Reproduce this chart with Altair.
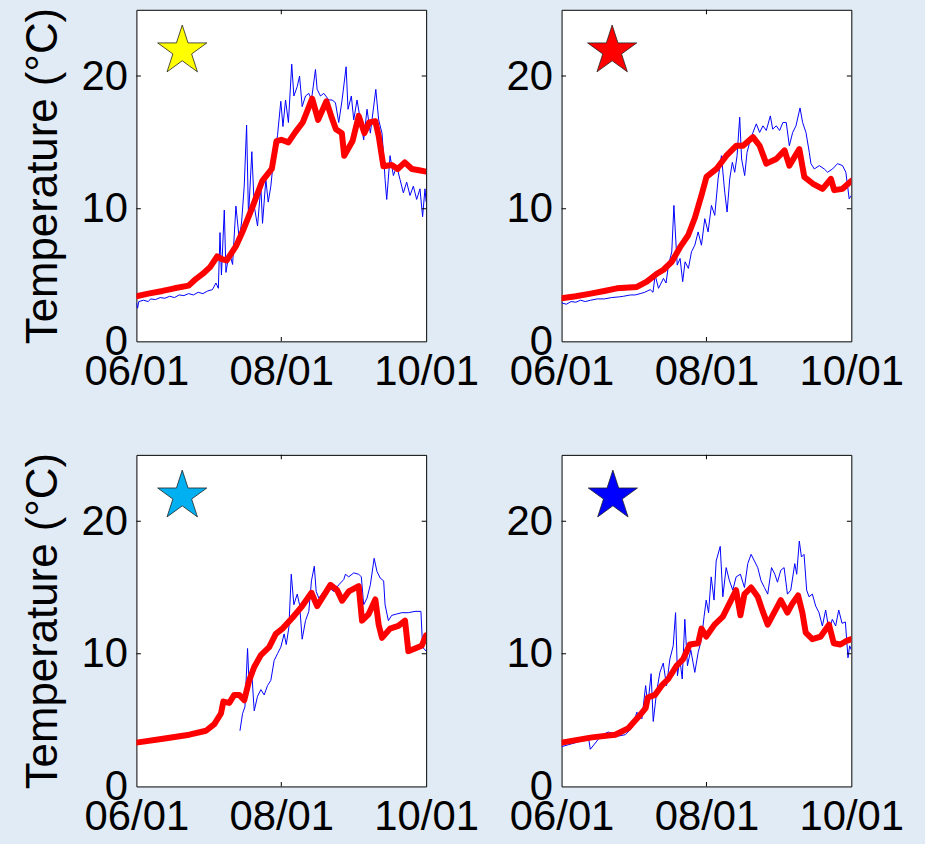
import altair as alt
import pandas as pd

# ---------------- axis ticks ----------------
SEASON_TICKS = [0, 61, 122]          # days after 06/01
SEASON_LABELS = ["06/01", "08/01", "10/01"]
TEMP_TICKS = [0, 10, 20]
TEMP_MAX = 25
Y_TITLE = "Temperature (°C)"

# ---------------- top-left (yellow star) ----------------
tl_blue_day = [0, 0.5, 1, 3, 5, 6, 8, 10, 12, 14, 16, 18, 20, 22, 24, 26, 28, 30, 32, 33.5, 34.5, 35.2, 35.8,
               37.0, 37.7, 39.1, 40.5, 41.9, 43.3, 44.3, 45.4, 46.4, 47.2, 48.6, 49.6, 51.0, 52.4, 53.1, 54.5,
               55.5, 56.6, 58.0, 59.4, 60.8, 61.7, 62.8, 64.0, 65.4, 66.3, 67.7, 68.7, 69.8, 71.2, 72.6, 73.7,
               75.4, 76.1, 77.5, 78.9, 81.0, 82.4, 83.8, 85.2, 86.6, 88.3, 89.1, 90.5, 91.5, 92.9, 94.3, 95.7,
               97.1, 98.5, 100.8, 102.0, 103.4, 104.1, 104.7, 105.4, 106.8, 108.2, 109.6, 111.0, 112.4, 113.8,
               115.2, 116.6, 118.0, 119.4, 120.5, 121.5, 122]
tl_blue_temp = [2.9, 2.5, 3.0, 3.1, 3.0, 3.2, 3.15, 3.3, 3.25, 3.4, 3.3, 3.5, 3.45, 3.6, 3.5, 3.7, 3.6, 3.8, 3.9,
                4.4, 4.0, 8.2, 5.0, 9.9, 5.2, 6.7, 5.8, 10.2, 7.7, 9.0, 11.7, 16.3, 9.4, 14.3, 10.2, 8.7, 11.7,
                8.9, 12.2, 10.5, 11.7, 14.2, 15.5, 18.1, 16.2, 18.2, 16.5, 20.9, 18.5, 19.2, 20.0, 17.7, 18.5,
                18.7, 18.2, 20.5, 19.0, 18.5, 18.7, 18.2, 18.2, 18.0, 16.5, 18.2, 20.7, 17.5, 18.5, 16.7, 18.2,
                16.7, 15.2, 17.5, 15.7, 19.0, 16.7, 15.7, 14.0, 12.2, 10.7, 14.0, 12.5, 13.2, 12.2, 11.2, 12.0,
                11.0, 11.7, 10.7, 11.5, 9.4, 11.5, 10.5]
tl_red_day = [0, 5, 11, 16, 22, 25, 28, 31, 34, 36, 38, 42, 45, 49, 53, 57, 59, 61, 64, 67, 70, 74, 76.5, 80,
              82, 84, 86.5, 87.5, 91, 93.6, 96, 98, 100.6, 102, 104, 107.5, 110, 113, 116, 119, 122]
tl_red_temp = [3.4, 3.6, 3.8, 4.0, 4.2, 4.7, 5.1, 5.6, 6.4, 6.2, 6.1, 7.2, 8.4, 10.2, 12.1, 13.0, 15.1, 15.2,
               15.0, 15.8, 16.5, 18.3, 16.7, 18.1, 17.0, 16.0, 15.7, 14.0, 15.1, 17.0, 15.7, 16.5, 16.6, 15.5,
               13.2, 13.3, 13.0, 13.5, 13.0, 12.9, 12.8]

# ---------------- top-right (red star) ----------------
tr_blue_day = [0, 2, 4, 6, 8, 10, 12.2, 15, 18, 21, 24, 26.1, 29, 31, 33.1, 35, 37.3, 38.5, 39.4, 40.8, 42.9,
               44.0, 45.0, 46.4, 47.3, 47.9, 48.7, 49.9, 51.0, 52.0, 53.4, 54.7, 56.1, 57.5, 58.9, 60.3, 61.7,
               63.1, 64.5, 65.9, 67.3, 68.7, 69.7, 70.8, 71.9, 72.9, 73.9, 75.0, 75.8, 77.1, 78.1, 79.2, 80.6,
               82.0, 83.4, 84.8, 86.2, 87.9, 88.9, 90.4, 91.8, 93.2, 94.6, 95.9, 97.3, 98.7, 100.4, 101.5, 102.9,
               104.3, 105.0, 106.4, 108.5, 110.6, 112.0, 114.1, 116.2, 118.3, 119.7, 121.1, 122]
tr_blue_temp = [2.9, 2.8, 3.0, 2.95, 3.1, 3.0, 3.1, 3.2, 3.2, 3.3, 3.35, 3.4, 3.5, 3.5, 3.6, 3.7, 3.9, 3.7, 5.0,
                4.0, 4.75, 4.4, 5.75, 6.75, 10.25, 8.25, 5.75, 6.25, 4.5, 6.0, 5.5, 6.75, 7.25, 8.25, 7.25,
                9.25, 8.25, 10.25, 9.5, 12.25, 14.0, 11.25, 9.75, 12.25, 13.5, 12.75, 14.0, 16.9, 13.75, 12.5,
                14.25, 15.0, 15.75, 16.4, 15.75, 16.25, 15.9, 17.0, 16.0, 16.25, 15.9, 16.5, 16.5, 14.75, 15.75,
                16.25, 17.6, 16.5, 15.75, 14.25, 13.4, 13.0, 13.25, 13.0, 12.75, 13.0, 13.4, 13.25, 12.75,
                10.75, 11.0]
tr_red_day = [0, 6, 12.2, 18, 23.3, 31.7, 35.9, 40.1, 42.9, 46.4, 49.9, 53.3, 56.1, 58.9, 61.0, 65.2, 69.4,
              73.6, 76.4, 80.6, 83.4, 86.2, 90.4, 93.9, 95.9, 100.1, 102.2, 105.7, 109.9, 113.4, 114.8, 118.3,
              122]
tr_red_temp = [3.25, 3.4, 3.6, 3.8, 4.0, 4.1, 4.5, 5.1, 5.4, 6.0, 7.1, 8.0, 9.3, 11.0, 12.4, 13.0, 14.0, 14.75,
               14.75, 15.4, 14.75, 13.4, 13.75, 14.4, 13.25, 14.5, 12.4, 11.9, 11.5, 12.25, 11.4, 11.5, 12.1]

# ---------------- bottom-left (cyan star) ----------------
bl_blue_day = [43.6, 44.7, 45.7, 46.8, 47.5, 48.6, 49.6, 51.0, 52.4, 53.8, 55.2, 56.6, 58.0, 59.4, 60.8, 62.2,
               63.1, 64.2, 65.2, 66.3, 67.7, 68.7, 69.8, 71.2, 72.6, 73.7, 74.9, 75.7, 76.8, 78.9, 81.0, 83.1,
               85.2, 87.3, 88.0, 89.4, 91.5, 93.6, 94.7, 95.7, 97.1, 98.5, 100.1, 101.3, 102.7, 104.1, 104.7,
               106.1, 107.5, 109.6, 111.7, 114.5, 117.3, 119.8, 120.5, 122]
bl_blue_temp = [4.2, 5.5, 6.0, 10.4, 7.5, 8.5, 5.7, 6.8, 7.3, 6.9, 7.6, 8.0, 9.5, 10.0, 10.5, 11.5, 10.7, 12.0,
                16.0, 13.7, 14.5, 13.7, 11.1, 12.5, 13.2, 15.5, 16.6, 14.7, 14.2, 14.7, 15.0, 14.7, 15.2, 15.6,
                16.0, 15.8, 16.1, 16.0, 15.8, 13.7, 14.2, 15.2, 17.2, 16.2, 15.7, 15.5, 13.7, 12.5, 12.9, 13.0,
                13.1, 13.1, 13.2, 13.2, 10.5, 10.2]
bl_red_day = [0, 11.2, 22.3, 29.3, 32.8, 35.6, 36.6, 39.1, 41.2, 43.3, 45.4, 47.5, 49.6, 52.4, 55.9, 58.7,
              61.5, 65.6, 69.8, 73.7, 76.1, 78.2, 81.7, 84.5, 86.6, 89.4, 93.6, 95.0, 97.8, 100.6, 102.0,
              103.4, 106.8, 110.3, 113.1, 114.5, 117.3, 120.1, 122]
bl_red_temp = [3.3, 3.6, 3.9, 4.2, 4.7, 5.5, 6.4, 6.3, 6.9, 6.9, 6.5, 8.0, 9.0, 9.9, 10.5, 11.5, 11.9, 12.7,
               13.6, 14.6, 13.6, 14.2, 15.2, 14.8, 14.0, 14.7, 15.1, 12.5, 13.0, 14.1, 12.2, 11.2, 11.9, 12.1,
               12.5, 10.2, 10.4, 10.6, 11.4]

# ---------------- bottom-right (blue star) ----------------
br_blue_day = [0, 5.9, 11.4, 12.1, 17.0, 19.8, 24.0, 26.8, 29.6, 31.7, 33.8, 35.4, 36.3, 37.7, 38.6, 40.0,
               41.4, 42.8, 44.2, 45.6, 47.0, 48.0, 48.8, 49.8, 50.8, 51.9, 53.0, 54.4, 56.1, 57.5, 58.9, 60.0,
               60.9, 61.9, 63.0, 64.2, 65.1, 66.8, 67.9, 69.3, 70.7, 72.1, 73.5, 75.3, 77.0, 78.4, 79.8, 81.2,
               82.6, 84.0, 85.4, 86.8, 88.4, 89.8, 90.9, 92.3, 93.7, 95.1, 96.5, 98.2, 99.0, 100.1, 101.0,
               102.1, 103.2, 104.2, 105.6, 107.0, 108.4, 109.8, 111.2, 112.6, 114.0, 115.4, 116.7, 118.1, 119.5,
               120.6, 121.3, 122]
br_blue_temp = [3.0, 3.3, 3.6, 2.8, 3.9, 4.1, 3.8, 3.9, 4.4, 5.6, 5.1, 7.6, 6.1, 8.5, 4.9, 7.1, 8.6, 9.3, 7.6,
                9.6, 10.6, 13.1, 8.35, 9.6, 8.1, 12.6, 9.1, 10.3, 8.6, 10.1, 11.1, 12.8, 14.05, 13.1, 15.8,
                14.05, 17.0, 18.1, 14.3, 16.5, 15.5, 14.8, 15.8, 16.0, 15.0, 16.8, 17.5, 17.0, 16.5, 15.5, 15.0,
                14.5, 16.5, 16.0, 15.4, 16.3, 16.5, 14.5, 14.8, 16.8, 16.0, 18.5, 17.3, 17.5, 14.8, 14.3, 14.5,
                13.6, 13.1, 12.1, 13.3, 11.8, 12.6, 12.1, 13.3, 12.3, 12.4, 9.7, 10.6, 10.3]
br_red_day = [0, 12.8, 22.6, 28.2, 32.4, 35.4, 36.3, 39.3, 42.1, 44.9, 48.4, 51.2, 54.0, 57.5, 58.9, 60.9,
              64.4, 67.9, 70.7, 73.5, 75.3, 77.0, 79.8, 82.6, 84.7, 86.8, 89.5, 92.3, 95.1, 97.2, 99.6, 101.4,
              102.8, 105.6, 109.1, 112.6, 114.6, 117.4, 120.2, 122]
br_red_temp = [3.3, 3.7, 3.9, 4.4, 5.25, 5.9, 6.7, 6.9, 7.6, 8.1, 9.1, 9.6, 10.7, 10.8, 11.9, 11.3, 12.2, 12.8,
               13.8, 14.8, 12.9, 14.5, 15.0, 14.3, 13.2, 12.2, 13.1, 14.05, 13.1, 13.8, 14.4, 13.1, 11.6, 11.1,
               11.3, 12.2, 10.8, 10.7, 11.0, 11.1]

# ---------------- star markers ----------------
star_colors = ["#FFFF00", "#FF0000", "#00B0F0", "#0000FF"]
star_day = [19.3, 21.3, 19.3, 21.6]
star_temp = [21.9, 21.9, 21.9, 21.9]

STAR_PATH = ("M0,-1L0.2245,-0.309L0.9511,-0.309L0.3633,0.118L0.5878,0.809L0,0.382"
             "L-0.5878,0.809L-0.3633,0.118L-0.9511,-0.309L-0.2245,-0.309Z")

FONT = "Liberation Sans"

# label expression built from the tick lists
label_expr = f"'{SEASON_LABELS[-1]}'"
for v, lab in reversed(list(zip(SEASON_TICKS[:-1], SEASON_LABELS[:-1]))):
    label_expr = f"datum.value == {v} ? '{lab}' : " + label_expr


def panel(bd, bt, rd, rt, idx, with_title):
    x = alt.X("day:Q",
              scale=alt.Scale(domain=[SEASON_TICKS[0], SEASON_TICKS[-1]], nice=False, zero=False),
              axis=alt.Axis(values=SEASON_TICKS, labelExpr=label_expr, title=None,
                            labelPadding=10, labelFlush=False, labelOverlap=False))
    y = alt.Y("temp:Q",
              scale=alt.Scale(domain=[0, TEMP_MAX], nice=False),
              axis=alt.Axis(values=TEMP_TICKS, format="d", labelPadding=9,
                            labelOverlap=False, labelFlush=False,
                            title=Y_TITLE if with_title else None, titlePadding=16))

    blue = alt.Chart(pd.DataFrame({"day": bd, "temp": bt})).mark_line(
        color="#0000FF", strokeWidth=1, clip=True).encode(x=x, y=y)
    red = alt.Chart(pd.DataFrame({"day": rd, "temp": rt})).mark_line(
        color="#FF0000", strokeWidth=6, strokeJoin="round", strokeCap="round", clip=True
    ).encode(x=x, y=y)
    star = alt.Chart(pd.DataFrame({"day": [star_day[idx]], "temp": [star_temp[idx]]})).mark_point(
        shape=STAR_PATH, size=2700, filled=True, fill=star_colors[idx], fillOpacity=1,
        stroke="#222222", strokeWidth=0.8, opacity=1).encode(x=x, y=y)

    # inward MATLAB-style ticks (clipped to the plot box)
    vt = pd.DataFrame({"day": [SEASON_TICKS[1]] * 2, "temp": [0, TEMP_MAX]})
    ht = pd.DataFrame({"day": [SEASON_TICKS[0]] * 2 + [SEASON_TICKS[-1]] * 2,
                       "temp": TEMP_TICKS[1:] * 2})
    vticks = alt.Chart(vt).mark_tick(orient="vertical", size=9, thickness=1,
                                     color="black", clip=True, opacity=1).encode(x=x, y=y)
    hticks = alt.Chart(ht).mark_tick(orient="horizontal", size=9, thickness=1,
                                     color="black", clip=True, opacity=1).encode(x=x, y=y)

    return alt.layer(blue, red, vticks, hticks, star).properties(width=291, height=333)


tl = panel(tl_blue_day, tl_blue_temp, tl_red_day, tl_red_temp, 0, True)
tr = panel(tr_blue_day, tr_blue_temp, tr_red_day, tr_red_temp, 1, False)
bl = panel(bl_blue_day, bl_blue_temp, bl_red_day, bl_red_temp, 2, True)
br = panel(br_blue_day, br_blue_temp, br_red_day, br_red_temp, 3, False)

chart = alt.concat(
    tl, tr, bl, br, columns=2,
    spacing=alt.RowColnumber(row=114, column=136),
    bounds="flush",
).configure(
    background="#e1ebf5",
    padding={"left": 20, "top": 5, "right": 20, "bottom": 8},
    font=FONT,
).configure_view(
    stroke="black", strokeWidth=1, fill="white"
).configure_axis(
    grid=False, domain=False, ticks=False,
    labelFont=FONT, labelFontSize=42, labelColor="black",
    titleFont=FONT, titleFontSize=44, titleFontWeight="normal", titleColor="black",
)

chart.save("out.html", embed_options={"renderer": "svg", "actions": False})
